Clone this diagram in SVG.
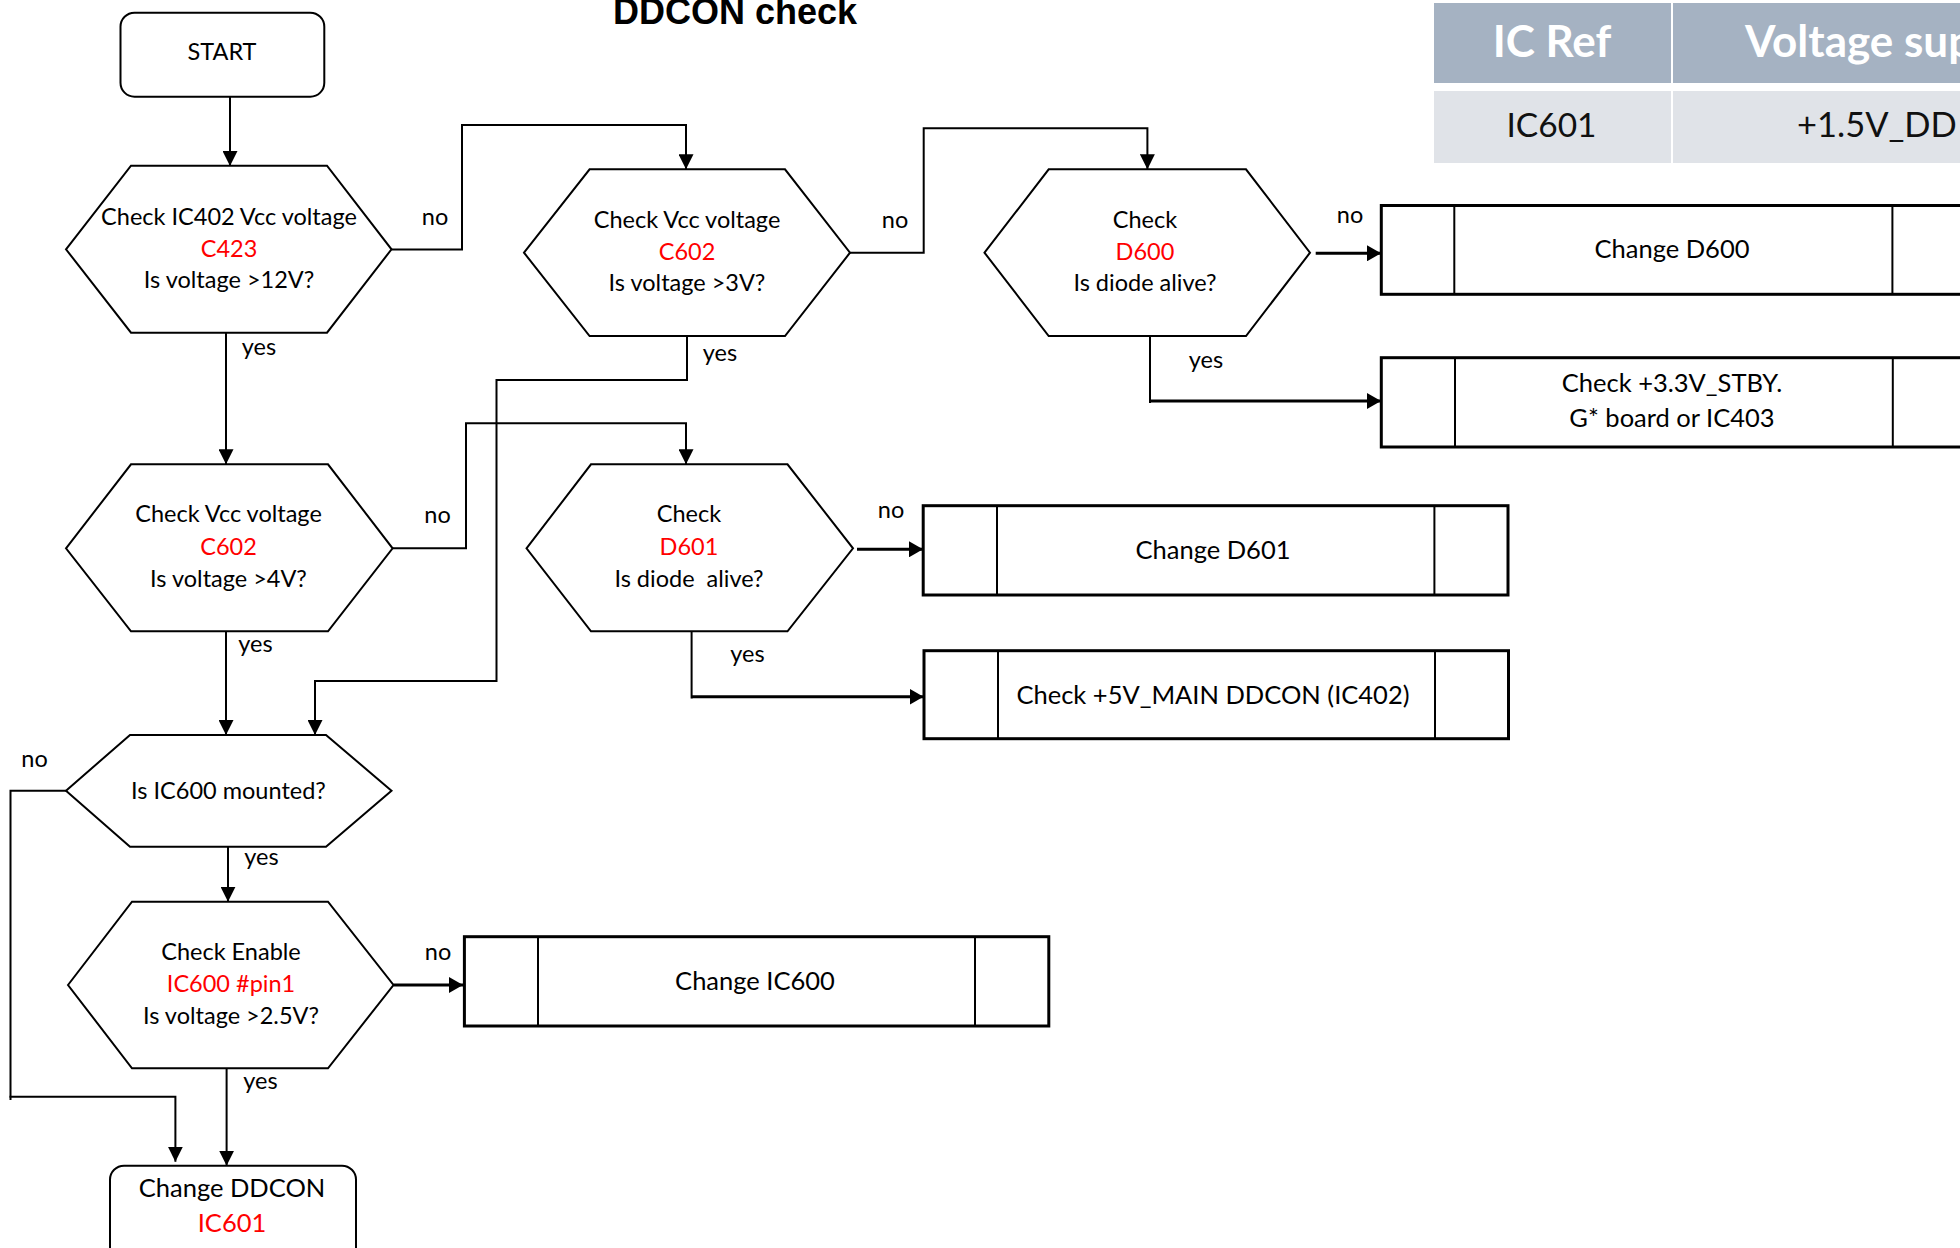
<svg xmlns="http://www.w3.org/2000/svg" width="1960" height="1248" viewBox="0 0 1960 1248">
<defs>
<style>
.hex{fill:#fff;stroke:#000;stroke-width:2}
.term{fill:#fff;stroke:#000;stroke-width:2}
.box{fill:#fff;stroke:#000;stroke-width:3}
.inner{stroke:#000;stroke-width:2}
.t{font-family:Lato,"Liberation Sans",sans-serif;font-size:23.5px;fill:#000;text-anchor:middle}
.bt{font-family:Lato,"Liberation Sans",sans-serif;font-size:25.5px;fill:#000;text-anchor:middle}
.red{fill:#ff0000}
.lbl{font-family:Lato,"Liberation Sans",sans-serif;font-size:23.5px;fill:#000;text-anchor:middle}
.c{fill:none;stroke:#000;stroke-width:2}
.ct{fill:none;stroke:#000;stroke-width:3}
</style>
<marker id="ah" markerUnits="userSpaceOnUse" viewBox="0 0 15 15" markerWidth="15" markerHeight="15" refX="15" refY="7.5" orient="auto"><path d="M0,0 L15,7.5 L0,15 z" fill="#000"/></marker>
<marker id="aht" markerUnits="userSpaceOnUse" viewBox="0 0 14 16" markerWidth="14" markerHeight="16" refX="14" refY="8" orient="auto"><path d="M0,0 L14,8 L0,16 z" fill="#000"/></marker>
</defs>
<rect width="1960" height="1248" fill="#fff"/>

<text x="735" y="24" font-family="'Liberation Sans',Arial,sans-serif" font-size="36" font-weight="bold" text-anchor="middle">DDCON check</text>

<g id="table">
<rect x="1434" y="3" width="237" height="80" fill="#A5B2C2"/>
<rect x="1673" y="3" width="290" height="80" fill="#A5B2C2"/>
<rect x="1434" y="91" width="237" height="72" fill="#E0E3E8"/>
<rect x="1673" y="91" width="290" height="72" fill="#E0E3E8"/>
<text x="1552" y="57" font-family="Lato,'Liberation Sans',sans-serif" font-size="44" font-weight="bold" fill="#fff" text-anchor="middle">IC Ref</text>
<text x="1745" y="57" font-family="Lato,'Liberation Sans',sans-serif" font-size="44" font-weight="bold" fill="#fff">Voltage sup</text>
<text x="1551.5" y="137" font-family="Lato,'Liberation Sans',sans-serif" font-size="33.5" fill="#111" text-anchor="middle">IC601</text>
<text x="1797" y="137" font-family="Lato,'Liberation Sans',sans-serif" font-size="34.5" fill="#111">+1.5V_DD</text>
</g>

<g id="connectors">
<path class="c" d="M230,97 V166" marker-end="url(#ah)"/>
<path class="c" d="M391.5,249.5 H462 V125 H686 V169.3" marker-end="url(#ah)"/>
<path class="c" d="M226,333 V464.3" marker-end="url(#ah)"/>
<path class="c" d="M687,336 V380 H496.5 V681 H315 V735" marker-end="url(#ah)"/>
<path class="c" d="M850,252.7 H923.7 V128.3 H1147.4 V169.3" marker-end="url(#ah)"/>
<path class="c" d="M392.6,548.3 H466 V423.3 H686 V464.3" marker-end="url(#ah)"/>
<path class="c" d="M226,631.3 V735" marker-end="url(#ah)"/>
<path class="ct" d="M857,549.3 H923" marker-end="url(#aht)"/>
<path class="c" d="M691.6,631.3 V698.5"/>
<path class="ct" d="M691.6,696.7 H923.5" marker-end="url(#aht)"/>
<path class="ct" d="M1315.7,253.3 H1381" marker-end="url(#aht)"/>
<path class="c" d="M1150,336 V403"/>
<path class="ct" d="M1150,401 H1381" marker-end="url(#aht)"/>
<path class="c" d="M228,846.7 V901.7" marker-end="url(#ah)"/>
<path class="c" d="M66,790.7 H10.5 V1100"/>
<path class="c" d="M9.5,1096.7 H175.4 V1161.7" marker-end="url(#ah)"/>
<path class="ct" d="M393.5,985 H463" marker-end="url(#aht)"/>
<path class="c" d="M226.6,1068.3 V1165.7" marker-end="url(#ah)"/>
</g>

<g id="labels">
<text class="lbl" x="435" y="225">no</text>
<text class="lbl" x="895" y="228">no</text>
<text class="lbl" x="1350" y="223">no</text>
<text class="lbl" x="437.5" y="523">no</text>
<text class="lbl" x="891" y="518">no</text>
<text class="lbl" x="34.5" y="767">no</text>
<text class="lbl" x="438" y="960">no</text>
<text class="lbl" x="259" y="355">yes</text>
<text class="lbl" x="720" y="361">yes</text>
<text class="lbl" x="1206" y="368">yes</text>
<text class="lbl" x="255.5" y="652">yes</text>
<text class="lbl" x="747.5" y="662">yes</text>
<text class="lbl" x="261.5" y="865">yes</text>
<text class="lbl" x="260.5" y="1089">yes</text>
</g>

<g id="start">
<rect class="term" x="120.5" y="12.7" width="203.8" height="84" rx="14"/>
<text class="t" x="222" y="60">START</text>
</g>

<g id="hex1">
<polygon class="hex" points="66,249.3 131,165.7 327,165.7 391.5,249.3 327,332.7 131,332.7"/>
<text class="t" x="229" y="225">Check IC402 Vcc voltage</text>
<text class="t red" x="229" y="256.7">C423</text>
<text class="t" x="229" y="288.3">Is voltage &gt;12V?</text>
</g>

<g id="hex2">
<polygon class="hex" points="524,252.7 589.6,169.3 785,169.3 850,252.7 785,336 589.6,336"/>
<text class="t" x="687" y="228.3">Check Vcc voltage</text>
<text class="t red" x="687" y="259.5">C602</text>
<text class="t" x="687" y="291">Is voltage &gt;3V?</text>
</g>

<g id="hex_d600">
<polygon class="hex" points="984.5,252.7 1048.7,169.3 1246,169.3 1310,252.7 1246,336 1048.7,336"/>
<text class="t" x="1145" y="228.3">Check</text>
<text class="t red" x="1145" y="259.5">D600</text>
<text class="t" x="1145" y="291">Is diode alive?</text>
</g>

<g id="hex3">
<polygon class="hex" points="66,548.3 131,464.3 328,464.3 392.6,548.3 328,631.3 131,631.3"/>
<text class="t" x="228.5" y="521.7">Check Vcc voltage</text>
<text class="t red" x="228.5" y="555">C602</text>
<text class="t" x="228.5" y="586.7">Is voltage &gt;4V?</text>
</g>

<g id="hex_d601">
<polygon class="hex" points="526.5,548.3 591,464.3 787.5,464.3 853,548.3 787.5,631.3 591,631.3"/>
<text class="t" x="689" y="521.7">Check</text>
<text class="t red" x="689" y="555">D601</text>
<text class="t" x="689" y="586.7" xml:space="preserve">Is diode  alive?</text>
</g>

<g id="hex5">
<polygon class="hex" points="66,790.7 130,735 326,735 391.5,790.7 326,846.7 130,846.7"/>
<text class="t" x="228.5" y="798.5">Is IC600 mounted?</text>
</g>

<g id="hex6">
<polygon class="hex" points="68,985 132,901.7 328,901.7 393.5,985 328,1068.3 132,1068.3"/>
<text class="t" x="231" y="960">Check Enable</text>
<text class="t red" x="231" y="992.3">IC600 #pin1</text>
<text class="t" x="231" y="1024">Is voltage &gt;2.5V?</text>
</g>

<g id="box_d600">
<rect class="box" x="1381.3" y="205.5" width="585" height="88.8"/>
<line class="inner" x1="1454.3" y1="205.5" x2="1454.3" y2="294.3"/>
<line class="inner" x1="1892.4" y1="205.5" x2="1892.4" y2="294.3"/>
<text class="bt" x="1672" y="258">Change D600</text>
</g>

<g id="box_stby">
<rect class="box" x="1381.3" y="357.7" width="585" height="89.3"/>
<line class="inner" x1="1455" y1="357.7" x2="1455" y2="447"/>
<line class="inner" x1="1892.8" y1="357.7" x2="1892.8" y2="447"/>
<text class="bt" x="1672" y="392">Check +3.3V_STBY.</text>
<text class="bt" x="1672" y="427">G* board or IC403</text>
</g>

<g id="box_d601">
<rect class="box" x="923.2" y="505.7" width="584.8" height="89.3"/>
<line class="inner" x1="997" y1="505.7" x2="997" y2="595"/>
<line class="inner" x1="1434.4" y1="505.7" x2="1434.4" y2="595"/>
<text class="bt" x="1213" y="558.5">Change D601</text>
</g>

<g id="box_5v">
<rect class="box" x="924" y="650.7" width="584.5" height="88"/>
<line class="inner" x1="998" y1="650.7" x2="998" y2="738.7"/>
<line class="inner" x1="1435" y1="650.7" x2="1435" y2="738.7"/>
<text class="bt" x="1213" y="703.5">Check +5V_MAIN DDCON (IC402)</text>
</g>

<g id="box_ic600">
<rect class="box" x="464.4" y="936.7" width="584.4" height="89.3"/>
<line class="inner" x1="538" y1="936.7" x2="538" y2="1026"/>
<line class="inner" x1="975" y1="936.7" x2="975" y2="1026"/>
<text class="bt" x="755" y="990">Change IC600</text>
</g>

<g id="end">
<rect class="term" x="110" y="1165.7" width="246" height="100" rx="14"/>
<text class="bt" x="232" y="1197">Change DDCON</text>
<text class="bt red" x="232" y="1232">IC601</text>
</g>
</svg>
